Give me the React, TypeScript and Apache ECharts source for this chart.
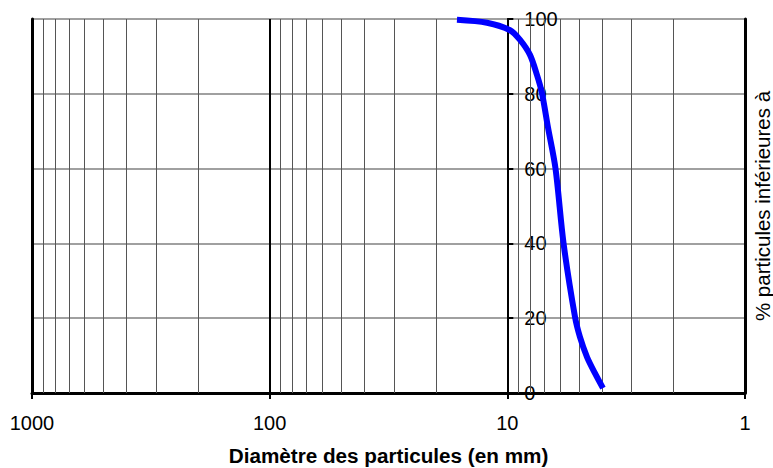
import React, { useEffect, useRef } from "react";
import * as echarts from "echarts";

const diameters = [16.29, 12.18, 9.74, 8.84, 8.03, 7.5, 7.15, 6.74, 6.27, 5.8, 5.19, 4.95, 4.62, 4.28, 3.96];
const passing = [99.8, 99, 97, 94.4, 90.4, 85, 80.2, 70.9, 60, 40, 20.3, 15, 9.6, 5.3, 1.3];
const minorGrid = [2, 3, 4, 5, 6, 7, 8, 9, 20, 30, 40, 50, 60, 70, 80, 90, 200, 300, 400, 500, 600, 700, 800, 900];
const xTitle = "Diamètre des particules (en mm)";
const yTitle = "% particules inférieures à";

const FONT = "'Liberation Sans', Arial, sans-serif";

export default function App() {
  const ref = useRef<HTMLDivElement>(null);
  useEffect(() => {
    if (!ref.current) return;
    const chart = echarts.init(ref.current, null, { renderer: "svg" });
    const gridW = 773 - 32 - 28;
    chart.setOption({
      animation: false,
      grid: { left: 32, right: 28, top: 19, bottom: 75, outerBoundsMode: "none", containLabel: false },
      xAxis: {
        type: "log",
        logBase: 10,
        min: 1,
        max: 1000,
        inverse: true,
        name: xTitle,
        nameLocation: "middle",
        nameGap: 52,
        nameTextStyle: { fontFamily: FONT, fontSize: 20.7, fontWeight: "bold", color: "#000" },
        axisLine: { show: true, onZero: false, lineStyle: { color: "#000", width: 3 } },
        axisTick: { show: true, length: 6, lineStyle: { color: "#000", width: 2 } },
        axisLabel: {
          fontFamily: FONT,
          fontSize: 20,
          color: "#000",
          margin: 20,
          formatter: (v: number) => String(Math.round(v)),
        },
        splitLine: { show: true, lineStyle: { color: "#000", width: 2 } },
        minorTick: { show: false },
        minorSplitLine: { show: false },
      },
      yAxis: [
        {
          type: "value",
          min: 0,
          max: 100,
          interval: 20,
          position: "right",
          offset: -gridW / 3,
          axisLine: { show: true, onZero: false, lineStyle: { color: "#000", width: 2 } },
          axisTick: { show: true, length: 6, inside: false, lineStyle: { color: "#000", width: 2 } },
          axisLabel: { fontFamily: FONT, fontSize: 20, color: "#000", margin: 17 },
          splitLine: { show: true, lineStyle: { color: "#808080", width: 1.5 } },
        },
        {
          type: "value",
          min: 0,
          max: 100,
          position: "right",
          name: yTitle,
          nameLocation: "middle",
          nameRotate: 90,
          nameGap: 7,
          nameTextStyle: { fontFamily: FONT, fontSize: 20.5, color: "#000" },
          axisLine: { show: true, onZero: false, lineStyle: { color: "#000", width: 3 } },
          axisTick: { show: false },
          axisLabel: { show: false },
          splitLine: { show: false },
        },
        {
          type: "value",
          min: 0,
          max: 100,
          position: "left",
          axisLine: { show: true, onZero: false, lineStyle: { color: "#000", width: 3 } },
          axisTick: { show: false },
          axisLabel: { show: false },
          splitLine: { show: false },
        },
      ],
      series: [
        {
          type: "line",
          yAxisIndex: 0,
          data: diameters.map((d, i) => [d, passing[i]]),
          smooth: 0.3,
          showSymbol: false,
          symbol: "none",
          lineStyle: { color: "#0000FF", width: 6 },
          z: 5,
          markLine: {
            silent: true,
            symbol: "none",
            label: { show: false },
            lineStyle: { color: "#555", width: 1, type: "solid" },
            data: minorGrid.map((v) => ({ xAxis: v })),
            z: 1,
          },
        },
      ],
    });
    return () => chart.dispose();
  }, []);
  return <div ref={ref} style={{ width: 773, height: 468, position: "absolute", left: 0, top: 0 }} />;
}
